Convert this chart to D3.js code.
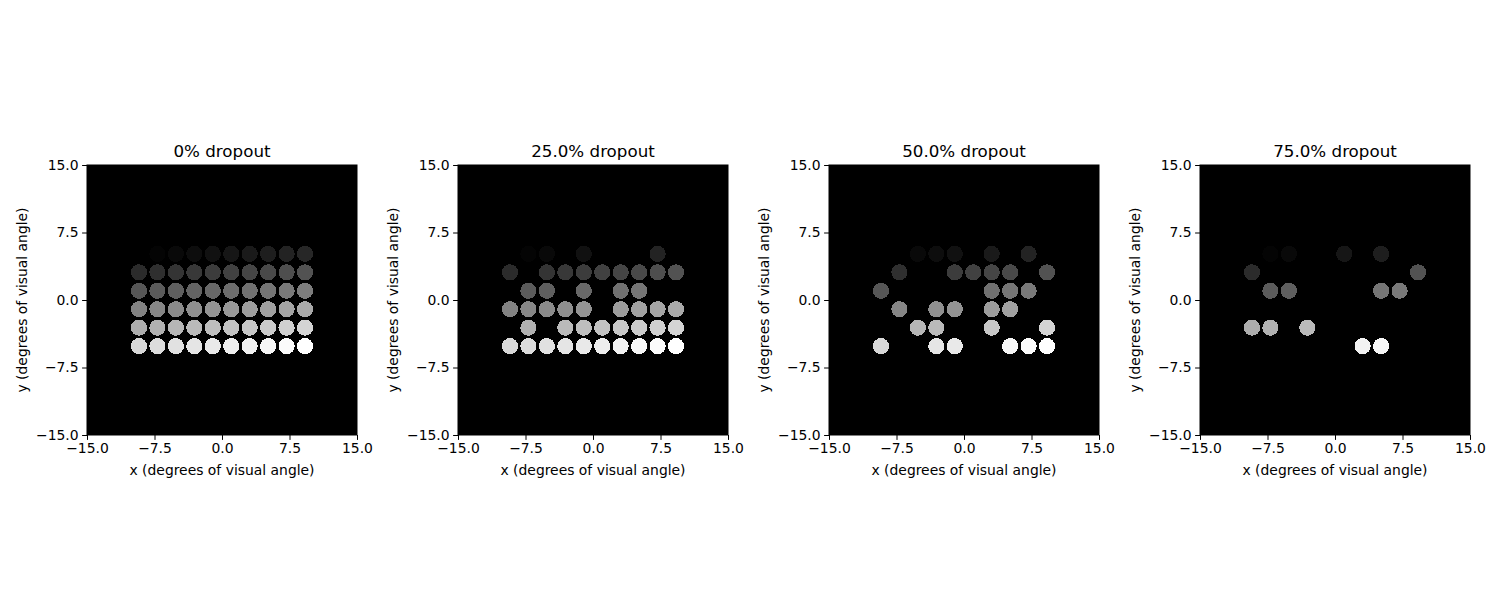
<!DOCTYPE html>
<html>
<head>
<meta charset="utf-8">
<script src="https://cdn.jsdelivr.net/npm/d3@7"></script>
<style>
  body { margin: 0; background: #fff; }
  svg { display: block; font-family: "DejaVu Sans", sans-serif; }
</style>
</head>
<body>
<svg id="chart" width="1500" height="600"></svg>
<script>
// ---- data ----
const panelTitles = ["0% dropout", "25.0% dropout", "50.0% dropout", "75.0% dropout"];
const tickValues = [-15, -7.5, 0, 7.5, 15];
const tickLabels = ["\u221215.0", "\u22127.5", "0.0", "7.5", "15.0"];
// electrode column x-positions and row y-positions (degrees of visual angle)
const colX = [-9.225, -7.175, -5.125, -3.075, -1.025, 1.025, 3.075, 5.125, 7.175, 9.225];
const rowY = [5.125, 3.075, 1.025, -1.025, -3.075, -5.125];
// percept brightness (0..1) for each electrode, row by row
const brightness = [
  [0.000, 0.017, 0.034, 0.051, 0.068, 0.085, 0.102, 0.119, 0.136, 0.153],
  [0.169, 0.186, 0.203, 0.220, 0.237, 0.254, 0.271, 0.288, 0.305, 0.322],
  [0.339, 0.356, 0.373, 0.390, 0.407, 0.424, 0.441, 0.458, 0.475, 0.492],
  [0.508, 0.525, 0.542, 0.559, 0.576, 0.593, 0.610, 0.627, 0.644, 0.661],
  [0.678, 0.695, 0.712, 0.729, 0.746, 0.763, 0.780, 0.797, 0.814, 0.831],
  [0.847, 0.864, 0.881, 0.898, 0.915, 0.932, 0.949, 0.966, 0.983, 1.000]
];
// surviving electrodes (column indices) per row, for each panel
const kept0 = [
  [0,1,2,3,4,5,6,7,8,9],
  [0,1,2,3,4,5,6,7,8,9],
  [0,1,2,3,4,5,6,7,8,9],
  [0,1,2,3,4,5,6,7,8,9],
  [0,1,2,3,4,5,6,7,8,9],
  [0,1,2,3,4,5,6,7,8,9]
];
const kept25 = [
  [1,2,4,8],
  [0,2,3,4,5,6,7,8,9],
  [1,2,4,6,7],
  [0,1,2,3,4,6,7,8,9],
  [1,3,4,5,6,7,8,9],
  [0,1,2,3,4,5,6,7,8,9]
];
const kept50 = [
  [2,3,4,6,8],
  [1,4,5,6,7,9],
  [0,6,7,8],
  [1,3,4,6,7],
  [2,3,6,9],
  [0,3,4,7,8,9]
];
const kept75 = [
  [1,2,5,7],
  [0,9],
  [1,2,7,8],
  [],
  [0,1,3],
  [6,7]
];
const panelKept = [kept0, kept25, kept50, kept75];

// ---- layout ----
const svg = d3.select("#chart");
const axLeft = [87, 458, 829, 1200];
const axTop = 165, axSize = 270;
const dotRadiusDeg = 0.9;

const gray = d3.scaleLinear().domain([0, 1]).range(["#000000", "#ffffff"]);

panelKept.forEach((kept, p) => {
  const x = d3.scaleLinear().domain([-15, 15]).range([0, axSize]);
  const y = d3.scaleLinear().domain([-15, 15]).range([axSize, 0]);
  const g = svg.append("g").attr("transform", `translate(${axLeft[p]},${axTop})`);

  g.append("rect").attr("x", 0).attr("y", 0)
    .attr("width", axSize).attr("height", axSize).attr("fill", "#000");

  const pts = [];
  kept.forEach((cols, r) => cols.forEach(c => pts.push({ x: colX[c], y: rowY[r], b: brightness[r][c] })));
  const rpx = x(dotRadiusDeg) - x(0);
  g.selectAll("circle.dot").data(pts).enter().append("circle")
    .attr("class", "dot")
    .attr("cx", d => x(d.x)).attr("cy", d => y(d.y))
    .attr("r", rpx)
    .attr("shape-rendering", "crispEdges")
    .attr("fill", d => gray(d.b));

  const xAxis = d3.axisBottom(x).tickValues(tickValues)
    .tickFormat((d, i) => tickLabels[i]).tickSizeOuter(0).tickSize(4.9).tickPadding(3.5);
  const yAxis = d3.axisLeft(y).tickValues(tickValues)
    .tickFormat((d, i) => tickLabels[i]).tickSizeOuter(0).tickSize(4.9).tickPadding(3.5);
  const gx = g.append("g").attr("transform", `translate(0,${axSize})`).call(xAxis);
  const gy = g.append("g").call(yAxis);
  [gx, gy].forEach(a => {
    a.select(".domain").remove();
    a.selectAll("text").attr("font-size", "13.9px").attr("fill", "#000")
      .attr("font-family", "DejaVu Sans, sans-serif");
    a.selectAll("line").attr("stroke", "#000").attr("stroke-width", 1);
  });

  g.append("rect").attr("x", 0).attr("y", 0).attr("width", axSize).attr("height", axSize)
    .attr("fill", "none").attr("stroke", "#000").attr("stroke-width", 1);

  g.append("text").attr("x", axSize / 2).attr("y", -8)
    .attr("text-anchor", "middle").attr("font-size", "16.7px").text(panelTitles[p]);
  g.append("text").attr("x", axSize / 2).attr("y", axSize + 40)
    .attr("text-anchor", "middle").attr("font-size", "13.9px").text("x (degrees of visual angle)");
  g.append("text")
    .attr("transform", `translate(${-60},${axSize / 2}) rotate(-90)`)
    .attr("text-anchor", "middle").attr("font-size", "13.9px").text("y (degrees of visual angle)");
});
</script>
</body>
</html>
